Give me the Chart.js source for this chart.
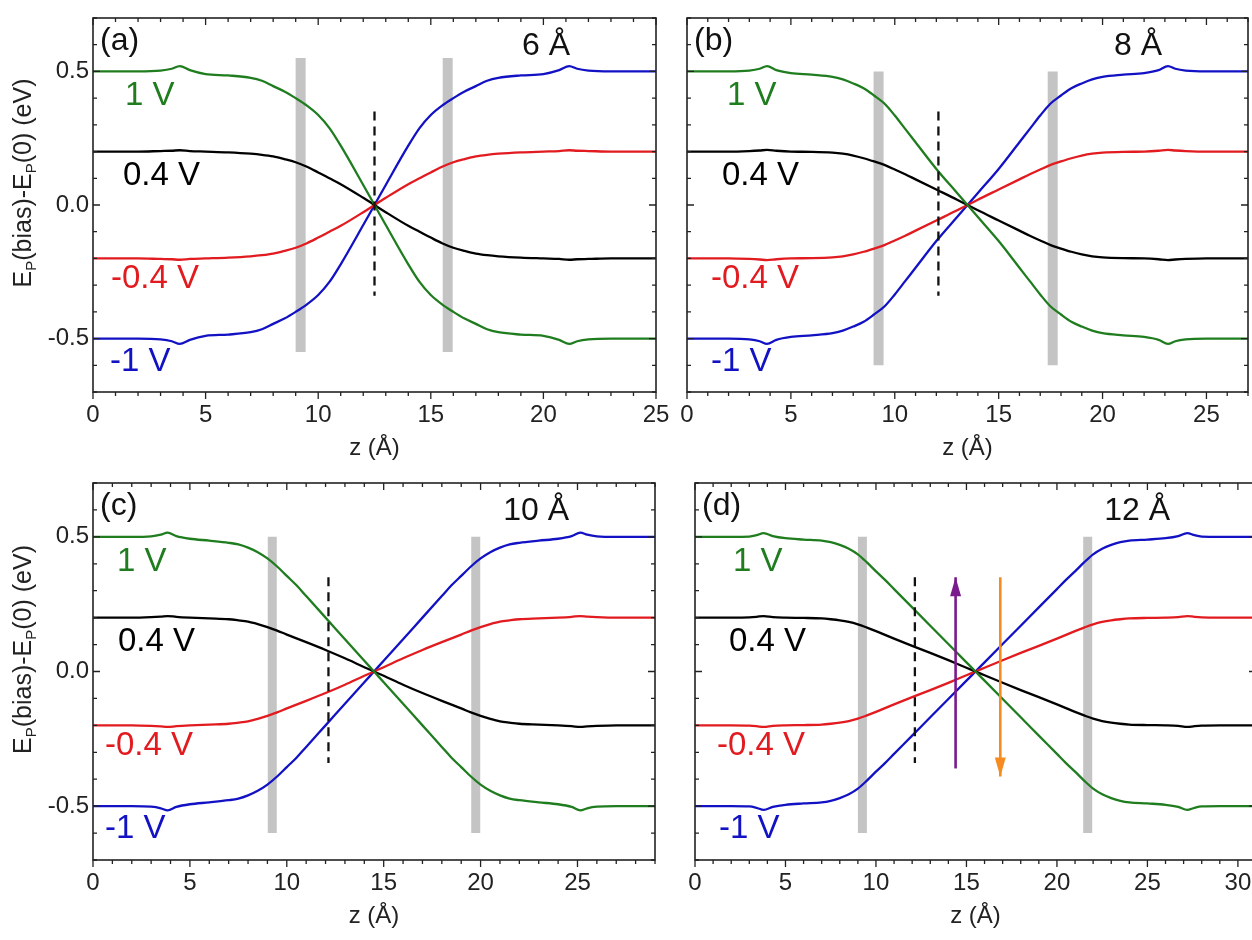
<!DOCTYPE html>
<html>
<head>
<title>Potential profile vs z</title>
<script src="https://cdn.jsdelivr.net/npm/chart.js"></script>
<style>
  body { margin: 0; background: #fff; overflow: hidden; width: 1252px; height: 940px; position: relative; }
  canvas { position: absolute; }
</style>
</head>
<body>
<canvas id="chartA" width="680" height="470" style="left:0;top:0"></canvas>
<canvas id="chartB" width="596" height="470" style="left:656px;top:0"></canvas>
<canvas id="chartC" width="680" height="470" style="left:0;top:470px"></canvas>
<canvas id="chartD" width="600" height="470" style="left:656px;top:470px"></canvas>

<script>
// ---- data ----
// (a) 6 A
const zA = [0, 2, 3, 3.5, 3.85, 4.3, 5, 6, 7, 7.5, 8, 8.5, 9, 9.5, 10, 10.5, 11, 12, 12.5,
            13, 14, 14.5, 15, 15.5, 16, 16.5, 17, 17.5, 18, 19, 20, 20.7, 21.15, 21.5, 22, 23, 25];
const greenA = [0.5, 0.5, 0.503, 0.51, 0.52, 0.505, 0.49, 0.485, 0.476, 0.465, 0.445, 0.425, 0.4, 0.372, 0.337, 0.288, 0.222, 0.075, 0,
                -0.075, -0.222, -0.288, -0.337, -0.372, -0.4, -0.425, -0.445, -0.465, -0.476, -0.485, -0.49, -0.505, -0.52, -0.51, -0.503, -0.5, -0.5];
const blackA = [0.2, 0.2, 0.202, 0.203, 0.205, 0.202, 0.2, 0.197, 0.192, 0.188, 0.182, 0.172, 0.16, 0.143, 0.122, 0.1, 0.078, 0.027, 0,
                -0.027, -0.078, -0.1, -0.122, -0.143, -0.16, -0.172, -0.182, -0.188, -0.192, -0.197, -0.2, -0.202, -0.205, -0.203, -0.202, -0.2, -0.2];
const redA = [-0.2, -0.2, -0.202, -0.203, -0.205, -0.202, -0.2, -0.197, -0.192, -0.188, -0.182, -0.172, -0.16, -0.143, -0.122, -0.1, -0.078, -0.027, 0,
              0.027, 0.078, 0.1, 0.122, 0.143, 0.16, 0.172, 0.182, 0.188, 0.192, 0.197, 0.2, 0.202, 0.205, 0.203, 0.202, 0.2, 0.2];
const blueA = [-0.5, -0.5, -0.503, -0.51, -0.52, -0.505, -0.49, -0.485, -0.476, -0.465, -0.445, -0.425, -0.4, -0.372, -0.337, -0.288, -0.222, -0.075, 0,
               0.075, 0.222, 0.288, 0.337, 0.372, 0.4, 0.425, 0.445, 0.465, 0.476, 0.485, 0.49, 0.505, 0.52, 0.51, 0.503, 0.5, 0.5];

// (b) 8 A
const zB = [0, 2, 3, 3.5, 3.85, 4.3, 5, 6, 7, 7.5, 8, 8.5, 9, 9.5, 10, 10.5, 11, 12, 13, 13.5,
            14, 15, 16, 16.5, 17, 17.5, 18, 18.5, 19, 19.5, 20, 21, 22, 22.7, 23.15, 23.5, 24, 25, 27];
const greenB = [0.5, 0.5, 0.503, 0.51, 0.52, 0.505, 0.494, 0.488, 0.48, 0.47, 0.455, 0.437, 0.41, 0.38, 0.335, 0.285, 0.235, 0.135, 0.045, 0,
                -0.045, -0.135, -0.235, -0.285, -0.335, -0.38, -0.41, -0.437, -0.455, -0.47, -0.48, -0.488, -0.494, -0.505, -0.52, -0.51, -0.503, -0.5, -0.5];
const blackB = [0.2, 0.2, 0.202, 0.204, 0.206, 0.203, 0.2, 0.199, 0.196, 0.192, 0.185, 0.175, 0.163, 0.15, 0.133, 0.115, 0.096, 0.058, 0.02, 0,
                -0.02, -0.058, -0.096, -0.115, -0.133, -0.15, -0.163, -0.175, -0.185, -0.192, -0.196, -0.199, -0.2, -0.203, -0.206, -0.204, -0.202, -0.2, -0.2];
const redB = [-0.2, -0.2, -0.202, -0.204, -0.206, -0.203, -0.2, -0.199, -0.196, -0.192, -0.185, -0.175, -0.163, -0.15, -0.133, -0.115, -0.096, -0.058, -0.02, 0,
              0.02, 0.058, 0.096, 0.115, 0.133, 0.15, 0.163, 0.175, 0.185, 0.192, 0.196, 0.199, 0.2, 0.203, 0.206, 0.204, 0.202, 0.2, 0.2];
const blueB = [-0.5, -0.5, -0.503, -0.51, -0.52, -0.505, -0.494, -0.488, -0.48, -0.47, -0.455, -0.437, -0.41, -0.38, -0.335, -0.285, -0.235, -0.135, -0.045, 0,
               0.045, 0.135, 0.235, 0.285, 0.335, 0.38, 0.41, 0.437, 0.455, 0.47, 0.48, 0.488, 0.494, 0.505, 0.52, 0.51, 0.503, 0.5, 0.5];

// (c) 10 A
const zC = [0, 2, 3, 3.5, 3.85, 4.3, 5, 6, 7, 7.5, 8, 8.5, 9, 9.5, 10, 10.5, 11, 12, 13, 14, 14.5,
            15, 16, 17, 18, 18.5, 19, 19.5, 20, 20.5, 21, 21.5, 22, 23, 24, 24.7, 25.15, 25.5, 26, 27, 29];
const greenC = [0.5, 0.5, 0.502, 0.508, 0.516, 0.503, 0.493, 0.486, 0.478, 0.472, 0.46, 0.443, 0.42, 0.39, 0.355, 0.32, 0.28, 0.2, 0.12, 0.04, 0,
                -0.04, -0.12, -0.2, -0.28, -0.32, -0.355, -0.39, -0.42, -0.443, -0.46, -0.472, -0.478, -0.486, -0.493, -0.503, -0.516, -0.508, -0.502, -0.5, -0.5];
const blackC = [0.2, 0.2, 0.202, 0.204, 0.206, 0.203, 0.2, 0.197, 0.194, 0.19, 0.185, 0.176, 0.165, 0.152, 0.137, 0.123, 0.109, 0.08, 0.049, 0.016, 0,
                -0.016, -0.049, -0.08, -0.109, -0.123, -0.137, -0.152, -0.165, -0.176, -0.185, -0.19, -0.194, -0.197, -0.2, -0.203, -0.206, -0.204, -0.202, -0.2, -0.2];
const redC = [-0.2, -0.2, -0.202, -0.204, -0.206, -0.203, -0.2, -0.197, -0.194, -0.19, -0.185, -0.176, -0.165, -0.152, -0.137, -0.123, -0.109, -0.08, -0.049, -0.016, 0,
              0.016, 0.049, 0.08, 0.109, 0.123, 0.137, 0.152, 0.165, 0.176, 0.185, 0.19, 0.194, 0.197, 0.2, 0.203, 0.206, 0.204, 0.202, 0.2, 0.2];
const blueC = [-0.5, -0.5, -0.502, -0.508, -0.516, -0.503, -0.493, -0.486, -0.478, -0.472, -0.46, -0.443, -0.42, -0.39, -0.355, -0.32, -0.28, -0.2, -0.12, -0.04, 0,
               0.04, 0.12, 0.2, 0.28, 0.32, 0.355, 0.39, 0.42, 0.443, 0.46, 0.472, 0.478, 0.486, 0.493, 0.503, 0.516, 0.508, 0.502, 0.5, 0.5];

// (d) 12 A
const zD = [0, 2, 3, 3.4, 3.8, 4.3, 5, 6, 7, 7.5, 8, 8.5, 9, 9.5, 10, 10.5, 11, 12, 13, 14, 15, 15.5,
            16, 17, 18, 19, 20, 20.5, 21, 21.5, 22, 22.5, 23, 23.5, 24, 25, 26, 26.7, 27.2, 27.6, 28, 29, 31];
const greenD = [0.5, 0.5, 0.501, 0.506, 0.514, 0.503, 0.495, 0.49, 0.486, 0.48, 0.47, 0.456, 0.435, 0.405, 0.372, 0.34, 0.306, 0.238, 0.17, 0.102, 0.034, 0,
                -0.034, -0.102, -0.17, -0.238, -0.306, -0.34, -0.372, -0.405, -0.435, -0.456, -0.47, -0.48, -0.486, -0.49, -0.495, -0.503, -0.514, -0.506, -0.501, -0.5, -0.5];
const blackD = [0.2, 0.2, 0.201, 0.203, 0.206, 0.202, 0.2, 0.199, 0.197, 0.194, 0.19, 0.184, 0.175, 0.163, 0.15, 0.136, 0.122, 0.095, 0.069, 0.042, 0.014, 0,
                -0.014, -0.042, -0.069, -0.095, -0.122, -0.136, -0.15, -0.163, -0.175, -0.184, -0.19, -0.194, -0.197, -0.199, -0.2, -0.202, -0.206, -0.203, -0.201, -0.2, -0.2];
const redD = [-0.2, -0.2, -0.201, -0.203, -0.206, -0.202, -0.2, -0.199, -0.197, -0.194, -0.19, -0.184, -0.175, -0.163, -0.15, -0.136, -0.122, -0.095, -0.069, -0.042, -0.014, 0,
              0.014, 0.042, 0.069, 0.095, 0.122, 0.136, 0.15, 0.163, 0.175, 0.184, 0.19, 0.194, 0.197, 0.199, 0.2, 0.202, 0.206, 0.203, 0.201, 0.2, 0.2];
const blueD = [-0.5, -0.5, -0.501, -0.506, -0.514, -0.503, -0.495, -0.49, -0.486, -0.48, -0.47, -0.456, -0.435, -0.405, -0.372, -0.34, -0.306, -0.238, -0.17, -0.102, -0.034, 0,
               0.034, 0.102, 0.17, 0.238, 0.306, 0.34, 0.372, 0.405, 0.435, 0.456, 0.47, 0.48, 0.486, 0.49, 0.495, 0.503, 0.514, 0.506, 0.501, 0.5, 0.5];

// axes
const zMax = [25, 27, 29, 31];
const xTicksA = [0, 5, 10, 15, 20, 25];
const xTicksB = [0, 5, 10, 15, 20, 25];
const xTicksC = [0, 5, 10, 15, 20, 25];
const xTicksD = [0, 5, 10, 15, 20, 25, 30];
const yTicks = [-0.5, 0, 0.5];

// gray bars (z centres), their vertical span, and the dashed marker
const barZA = [9.22, 15.75];
const barZB = [9.22, 17.6];
const barZC = [9.25, 19.75];
const barZD = [9.25, 21.7];
const barSpanA = [0.55, -0.55];
const barSpanBCD = [0.5, -0.6];
const dashZ = [12.5, 12.1, 12.15, 12.15];
const dashSpan = [0.35, -0.34];

// arrows in (d): [z, from, to]
const arrowUp = [14.4, -0.36, 0.35];
const arrowDown = [16.87, 0.35, -0.39];

const tags = ['(a)', '(b)', '(c)', '(d)'];
const gaps = ['6 Å', '8 Å', '10 Å', '12 Å'];
const biasLabels = ['1 V', '0.4 V', '-0.4 V', '-1 V'];
const biasLabelY = [0.375, 0.075, -0.31, -0.62];

// ---- style ----
const FONT = '"Liberation Sans", Arial, sans-serif';
const GREEN = '#1f7d1f', BLACK = '#000000', RED = '#e11b1f', BLUE = '#1212c4';
const BIAS_COLORS = [GREEN, BLACK, RED, BLUE];

function curve(z, vals, color) {
    return {
        data: z.map((zz, i) => ({ x: zz, y: vals[i] })),
        borderColor: color, borderWidth: 2.3, pointRadius: 0,
        cubicInterpolationMode: 'monotone', fill: false, order: 1
    };
}
function vline(z, span, color, width, extra) {
    return Object.assign({
        data: [{ x: z, y: span[0] }, { x: z, y: span[1] }],
        borderColor: color, borderWidth: width, pointRadius: 0,
        borderCapStyle: 'butt', tension: 0, fill: false
    }, extra || {});
}

// frame with inward ticks (outward on the bottom axis)
const framePlugin = {
    id: 'frame',
    afterDatasetsDraw(chart) {
        const { ctx, chartArea: a, scales: { x, y } } = chart;
        ctx.save();
        ctx.strokeStyle = '#222';
        ctx.lineWidth = 1.6;
        ctx.strokeRect(a.left, a.top, a.right - a.left, a.bottom - a.top);
        ctx.lineWidth = 1.3;
        ctx.beginPath();
        for (let v = 0; v <= x.max + 1e-6; v += 1) {
            const px = x.getPixelForValue(v);
            const len = v % 5 === 0 ? 7 : 4;
            ctx.moveTo(px, a.bottom); ctx.lineTo(px, a.bottom + len);
            ctx.moveTo(px, a.top); ctx.lineTo(px, a.top + len);
        }
        for (let i = -7; i <= 7; i++) {
            const py = y.getPixelForValue(i / 10);
            const len = i % 5 === 0 ? 7 : 4;
            ctx.moveTo(a.left, py); ctx.lineTo(a.left + len, py);
            ctx.moveTo(a.right, py); ctx.lineTo(a.right - len, py);
        }
        ctx.stroke();
        ctx.restore();
    }
};

// panel texts, y title with subscripts, arrow heads
const textPlugin = {
    id: 'texts',
    afterDraw(chart, args, o) {
        const { ctx, chartArea: a, scales: { x, y } } = chart;
        ctx.save();
        ctx.textBaseline = 'alphabetic';
        ctx.font = '32px ' + FONT;
        ctx.fillStyle = '#111';
        ctx.textAlign = 'left';
        ctx.fillText(o.tag, a.left + 7, a.top + 32);
        ctx.textAlign = 'right';
        ctx.fillText(o.gap, a.right - 86, a.top + 37);
        ctx.textAlign = 'left';
        ctx.font = '33px ' + FONT;
        biasLabels.forEach((t, i) => {
            ctx.fillStyle = BIAS_COLORS[i];
            ctx.fillText(t, a.left + o.labelDx[i], y.getPixelForValue(biasLabelY[i]));
        });

        (o.arrows || []).forEach(ar => {
            const px = x.getPixelForValue(ar.z);
            const tip = y.getPixelForValue(ar.to);
            const dir = ar.to > ar.from ? 1 : -1;
            ctx.fillStyle = ar.color;
            ctx.beginPath();
            ctx.moveTo(px, tip);
            ctx.lineTo(px - 5.5, tip + dir * 19);
            ctx.lineTo(px + 5.5, tip + dir * 19);
            ctx.closePath();
            ctx.fill();
        });

        if (o.yTitle) {
            const size = 25, small = 15;
            const parts = [['E', 0], ['P', 1], ['(bias)-E', 0], ['P', 1], ['(0) (eV)', 0]];
            ctx.translate(o.yTitle[0], (a.top + a.bottom) / 2 + o.yTitle[1]);
            ctx.rotate(-Math.PI / 2);
            let w = 0;
            parts.forEach(([t, s]) => { ctx.font = (s ? small : size) + 'px ' + FONT; w += ctx.measureText(t).width; });
            let xx = -w / 2;
            ctx.fillStyle = '#222';
            ctx.textAlign = 'left';
            parts.forEach(([t, s]) => {
                ctx.font = (s ? small : size) + 'px ' + FONT;
                ctx.fillText(t, xx, s ? 14 : 9);
                xx += ctx.measureText(t).width;
            });
        }
        ctx.restore();
    }
};

function makePanel(p) {
    const datasets = [
        curve(p.z, p.green, GREEN),
        curve(p.z, p.black, BLACK),
        curve(p.z, p.red, RED),
        curve(p.z, p.blue, BLUE),
        vline(p.dash, dashSpan, '#111', 2.3, { borderDash: [9, 6], order: 0 })
    ];
    p.bars.forEach(b => datasets.push(vline(b, p.barSpan, '#c4c4c4', p.barW, { order: 5 })));
    (p.arrows || []).forEach(ar => datasets.push(vline(ar.z, [ar.from, ar.to], ar.color, 2.6, { order: 0 })));

    new Chart(document.getElementById(p.id), {
        type: 'line',
        data: { datasets },
        plugins: [framePlugin, textPlugin],
        options: {
            responsive: false,
            animation: false,
            layout: { padding: { left: 0, right: p.box.padR, top: p.box.padT, bottom: 0 } },
            plugins: {
                legend: { display: false },
                tooltip: { enabled: false },
                texts: { tag: p.tag, gap: p.gap, labelDx: p.labelDx, yTitle: p.yTitle, arrows: p.arrows }
            },
            scales: {
                x: {
                    type: 'linear', min: 0, max: p.zMax,
                    grid: { display: false, drawTicks: false },
                    border: { display: false },
                    afterBuildTicks: s => { s.ticks = p.xTicks.map(v => ({ value: v })); },
                    afterFit: s => { s.height = p.box.xH; s.paddingLeft = 0; s.paddingRight = 0; },
                    ticks: { padding: 9, color: '#222', font: { size: 24, family: FONT }, maxRotation: 0, callback: v => String(v) },
                    title: { display: true, text: 'z (Å)', color: '#222', font: { size: 24, family: FONT }, padding: { top: 0, bottom: p.box.titlePad } }
                },
                y: {
                    type: 'linear', min: -0.7, max: 0.7,
                    grid: { display: false, drawTicks: false },
                    border: { display: false },
                    afterBuildTicks: s => { s.ticks = yTicks.map(v => ({ value: v })); },
                    afterFit: s => { s.width = p.box.yW; s.paddingTop = 0; s.paddingBottom = 0; },
                    ticks: { display: p.showY, padding: 4, color: '#222', font: { size: 24, family: FONT }, callback: v => v.toFixed(1) }
                }
            }
        }
    });
}

makePanel({ id: 'chartA', z: zA, green: greenA, black: blackA, red: redA, blue: blueA, zMax: zMax[0], xTicks: xTicksA,
    bars: barZA, barSpan: barSpanA, barW: 10, dash: dashZ[0], tag: tags[0], gap: gaps[0], showY: true,
    yTitle: [22, -22], labelDx: [32, 30, 18, 17], box: { yW: 93, padR: 24, padT: 18, xH: 78, titlePad: 7 } });
makePanel({ id: 'chartB', z: zB, green: greenB, black: blackB, red: redB, blue: blueB, zMax: zMax[1], xTicks: xTicksB,
    bars: barZB, barSpan: barSpanBCD, barW: 10, dash: dashZ[1], tag: tags[1], gap: gaps[1], showY: false,
    labelDx: [40, 35, 24, 24], box: { yW: 31, padR: 4, padT: 18, xH: 78, titlePad: 7 } });
makePanel({ id: 'chartC', z: zC, green: greenC, black: blackC, red: redC, blue: blueC, zMax: zMax[2], xTicks: xTicksC,
    bars: barZC, barSpan: barSpanBCD, barW: 9, dash: dashZ[2], tag: tags[2], gap: gaps[2], showY: true,
    yTitle: [22, -22], labelDx: [24, 25, 12, 12], box: { yW: 93, padR: 25, padT: 13, xH: 80, titlePad: 9 } });
makePanel({ id: 'chartD', z: zD, green: greenD, black: blackD, red: redD, blue: blueD, zMax: zMax[3], xTicks: xTicksD,
    bars: barZD, barSpan: barSpanBCD, barW: 9, dash: dashZ[3], tag: tags[3], gap: gaps[3], showY: false,
    labelDx: [38, 34, 22, 24], box: { yW: 39, padR: 0, padT: 13, xH: 80, titlePad: 9 },
    arrows: [
        { z: arrowUp[0], from: arrowUp[1], to: arrowUp[2], color: '#7a1a8c' },
        { z: arrowDown[0], from: arrowDown[1], to: arrowDown[2], color: '#f68b1f' }
    ] });
</script>
</body>
</html>
